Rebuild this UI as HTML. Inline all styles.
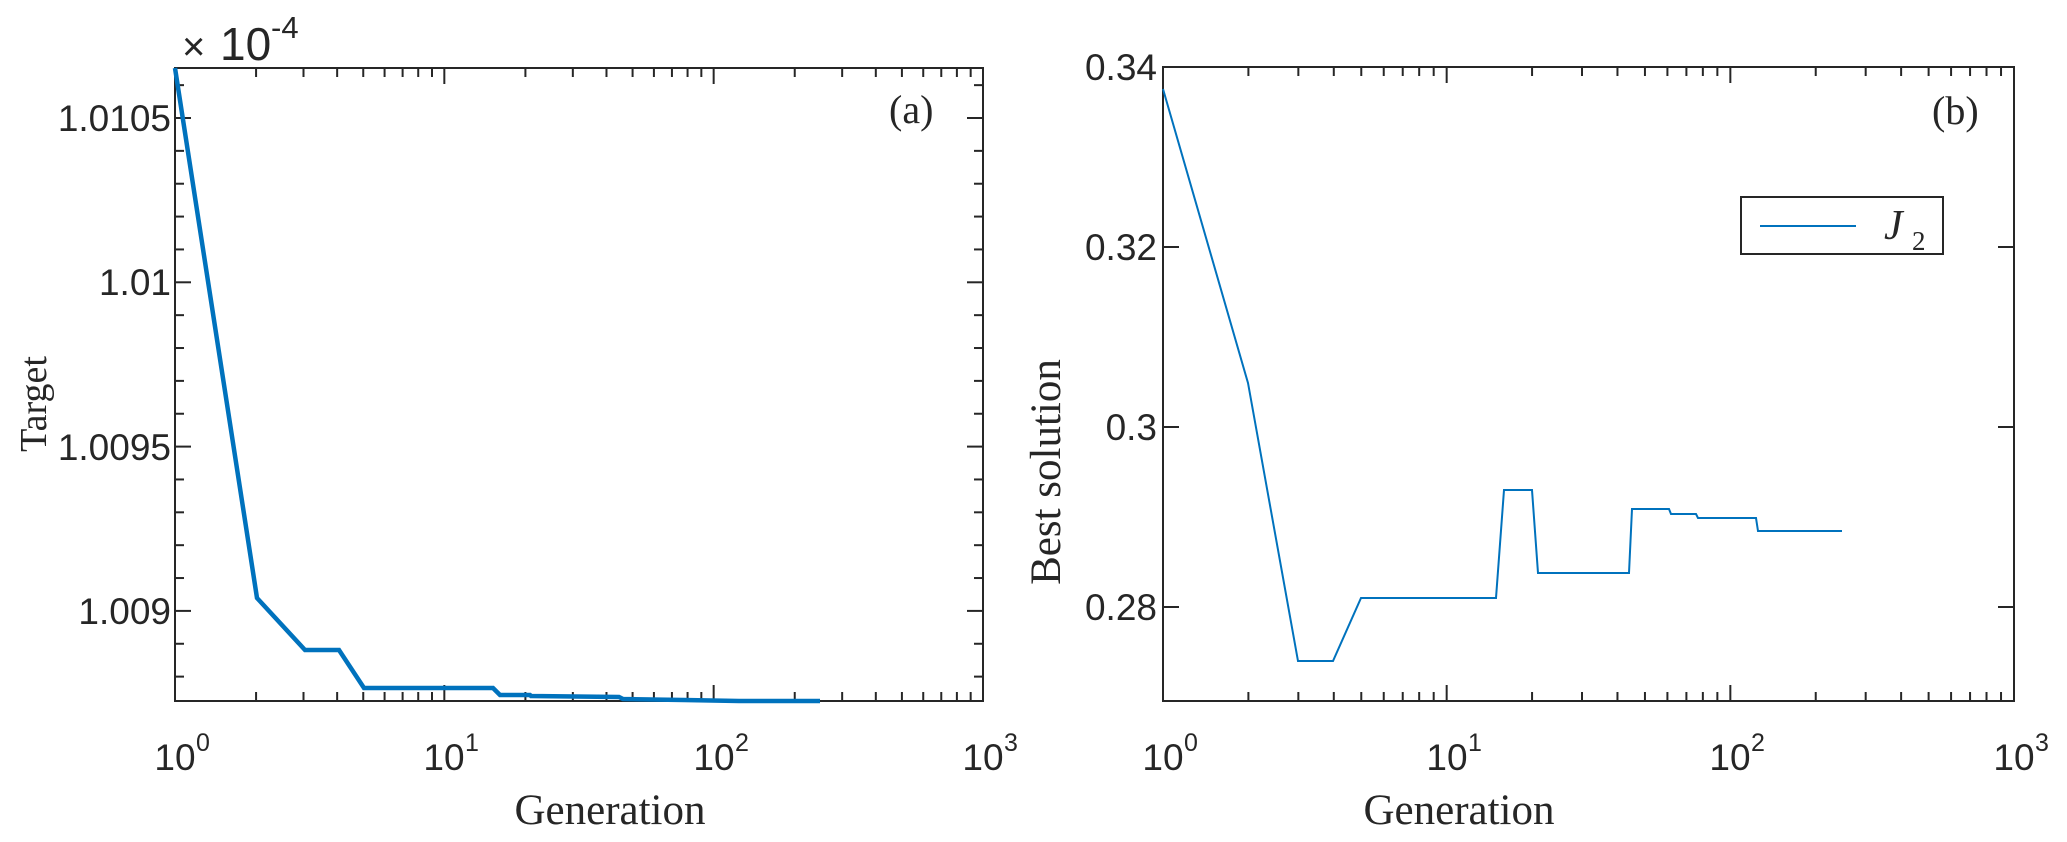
<!DOCTYPE html>
<html><head><meta charset="utf-8"><style>
html,body{margin:0;padding:0;background:#fff;}
svg{display:block;}
.tl{font-family:"Liberation Sans",Arial,sans-serif;font-size:37px;fill:#262626;}
.sup{font-family:"Liberation Sans",Arial,sans-serif;font-size:25px;fill:#262626;}
.lab{font-family:"Liberation Serif","Times New Roman",serif;font-size:43px;fill:#262626;}
</style></head><body>
<svg id="s" width="2067" height="842" viewBox="0 0 2067 842" xmlns="http://www.w3.org/2000/svg">
<rect width="2067" height="842" fill="#fff"/>
<g id="ticks" stroke="#262626" stroke-width="2" fill="none"></g>
<rect x="175" y="68" width="808" height="633" fill="none" stroke="#262626" stroke-width="2"/>
<rect x="1163" y="67" width="851" height="634" fill="none" stroke="#262626" stroke-width="2"/>

<polyline fill="none" stroke="#0072BD" stroke-width="4.5" stroke-linejoin="miter" points="175,68 257,598 305,650 339,650 364,688 493,688 500,695 530,695 531,696 619,697 623,699 684,700 739,701 820,701"/>
<polyline fill="none" stroke="#0072BD" stroke-width="2" points="1163,89 1248,383 1298,661 1333,661 1361,598 1496,598 1504,490 1532,490 1538,573 1629,573 1632,509 1669,509 1671,514 1696,514 1698,518 1756,518 1758,531 1842,531"/>

<text class="tl" x="171" y="131" text-anchor="end">1.0105</text>
<text class="tl" x="171" y="295" text-anchor="end">1.01</text>
<text class="tl" x="171" y="460" text-anchor="end">1.0095</text>
<text class="tl" x="171" y="624" text-anchor="end">1.009</text>
<text class="tl" x="182" y="60" style="font-size:40px">×</text>
<text class="tl" x="220" y="60" style="font-size:46px">10</text>
<text class="sup" x="271" y="38" style="font-size:31px">-4</text>

<text class="tl" x="175" y="770" text-anchor="middle">10</text><text class="sup" x="196" y="751">0</text>
<text class="tl" x="444" y="770" text-anchor="middle">10</text><text class="sup" x="465" y="751">1</text>
<text class="tl" x="714" y="770" text-anchor="middle">10</text><text class="sup" x="735" y="751">2</text>
<text class="tl" x="983" y="770" text-anchor="middle">10</text><text class="sup" x="1004" y="751">3</text>

<text class="lab" x="610" y="824" text-anchor="middle">Generation</text>
<text class="lab" transform="translate(46,404) rotate(-90)" text-anchor="middle" style="font-size:38px">Target</text>
<text class="lab" x="889" y="123" style="font-size:40px">(a)</text>

<text class="tl" x="1157" y="80" text-anchor="end">0.34</text>
<text class="tl" x="1157" y="260" text-anchor="end">0.32</text>
<text class="tl" x="1157" y="440" text-anchor="end">0.3</text>
<text class="tl" x="1157" y="620" text-anchor="end">0.28</text>

<text class="tl" x="1163" y="770" text-anchor="middle">10</text><text class="sup" x="1184" y="751">0</text>
<text class="tl" x="1447" y="770" text-anchor="middle">10</text><text class="sup" x="1468" y="751">1</text>
<text class="tl" x="1730" y="770" text-anchor="middle">10</text><text class="sup" x="1751" y="751">2</text>
<text class="tl" x="2014" y="770" text-anchor="middle">10</text><text class="sup" x="2035" y="751">3</text>

<text class="lab" x="1459" y="824" text-anchor="middle">Generation</text>
<text class="lab" transform="translate(1060,472) rotate(-90)" text-anchor="middle">Best solution</text>
<text class="lab" x="1932" y="124" style="font-size:40px">(b)</text>

<rect x="1741" y="197" width="202" height="57" fill="#fff" stroke="#262626" stroke-width="2"/>
<line x1="1760" y1="226" x2="1856" y2="226" stroke="#0072BD" stroke-width="2"/>
<text class="lab" x="1884" y="239" style="font-style:italic;font-size:42px">J</text>
<text class="lab" x="1912" y="250" style="font-size:27px">2</text>
</svg>
<script>
(function(){
var g=document.getElementById('ticks');var ns='http://www.w3.org/2000/svg';
function L(x1,y1,x2,y2){var l=document.createElementNS(ns,'line');l.setAttribute('x1',x1);l.setAttribute('y1',y1);l.setAttribute('x2',x2);l.setAttribute('y2',y2);g.appendChild(l);}
function xt(x0,dec,top,bot){for(var d=0;d<3;d++){for(var k=1;k<10;k++){var x=x0+dec*(d+Math.log10(k));var len=(k==1)?16:9;if(k==1&&d==0)continue;L(x,bot,x,bot-len);L(x,top,x,top+len);}}}
xt(175,269.33,68,701);xt(1163,283.67,67,701);
var step=164.3/5;
for(var i=-1;i<=17;i++){var y=118+i*step;if(y<70||y>699)continue;var major=(i%5==0);var len=major?16:9;L(175,y,175+len,y);L(983,y,983-len,y);}
[67,247,427,607].forEach(function(y){if(y>67){L(1163,y,1179,y);L(2014,y,1998,y);}});
})();
</script>
</body></html>
